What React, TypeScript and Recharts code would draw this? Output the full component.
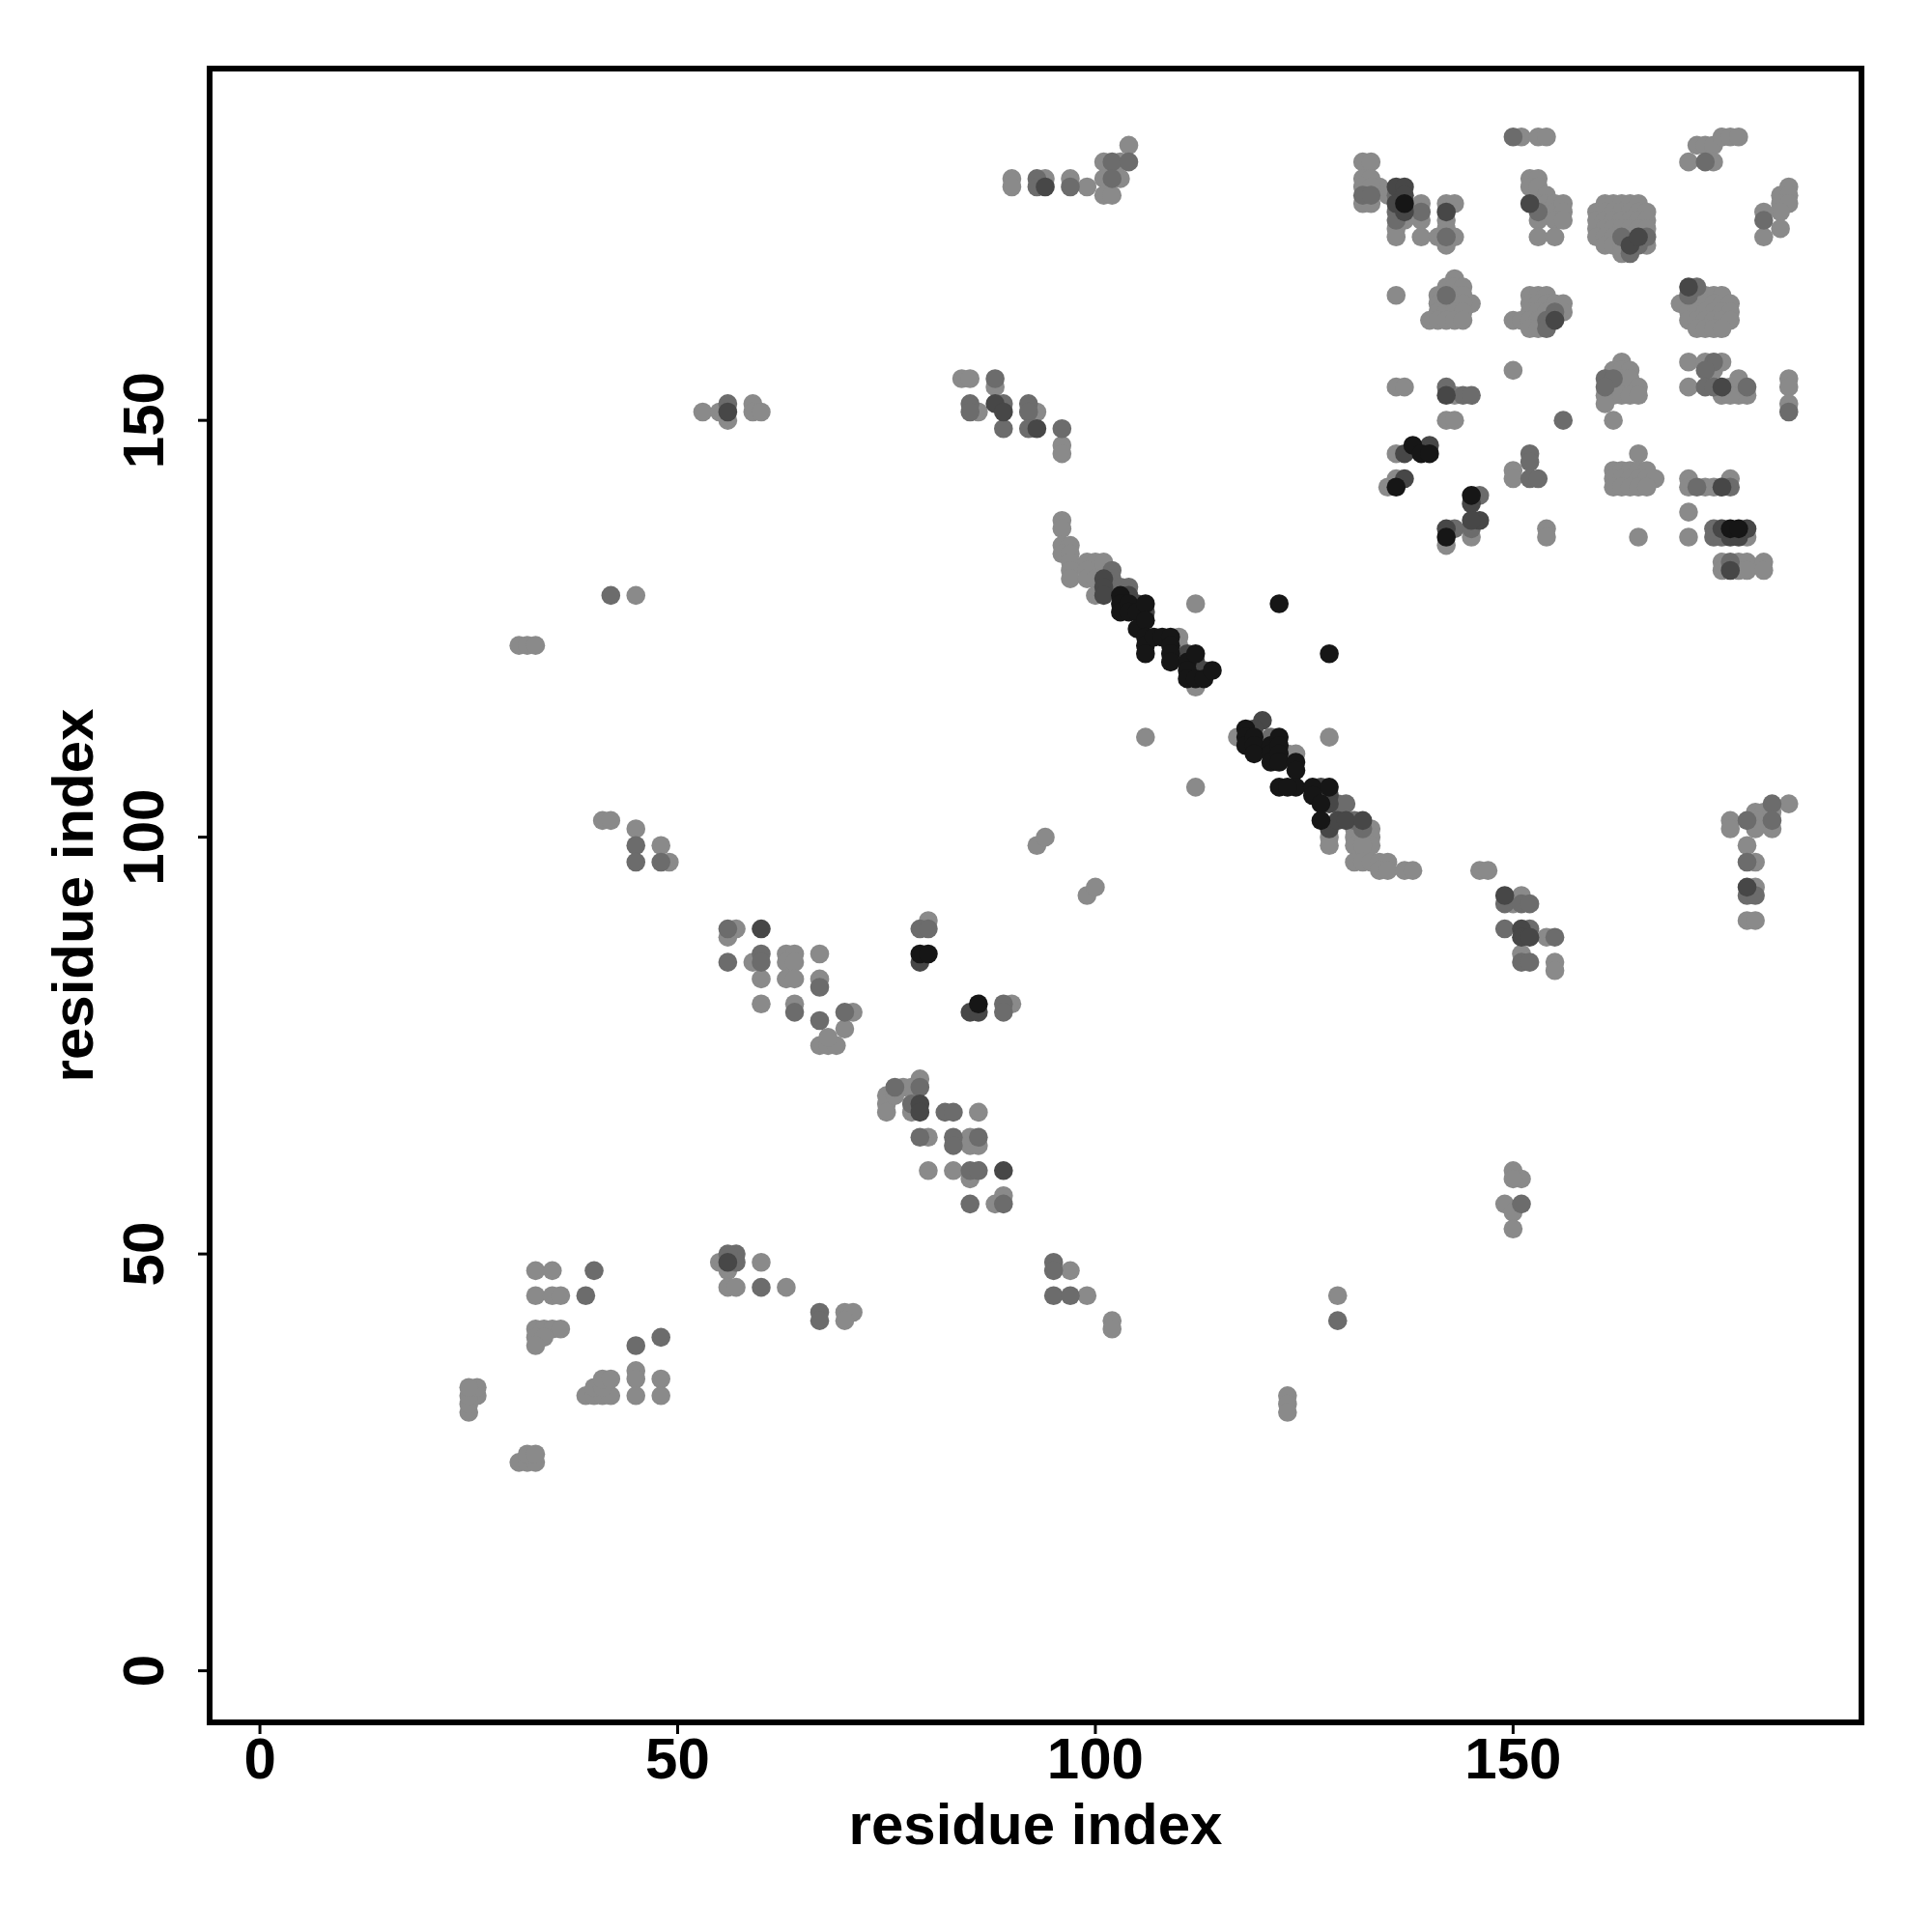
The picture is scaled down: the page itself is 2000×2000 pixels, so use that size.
import React from 'react';
import { ScatterChart, Scatter, XAxis, YAxis, ReferenceArea, Label } from 'recharts';

const xTicks = [0, 50, 100, 150];
const yTicks = [0, 50, 100, 150];
const axisTitle = 'residue index';

const lightPts: [number, number][] = [
  [31,25],[32,25],[33,25],[32,26],[33,26],
  [25,31],[25,32],[26,33],[25,33],[26,34],[25,34],
  [33,48],[35,48],[33,45],[35,45],[36,45],
  [33,41],[34,41],[35,41],[36,41],[33,40],[34,40],[33,39],
  [39,33],[40,33],[41,33],[42,33],[40,34],[41,34],[41,35],[42,35],
  [45,36],[45,35],[45,33],[48,35],[48,33],
  [55,49],[56,48],[60,49],[56,46],[57,46],[63,46],[70,43],[71,43],[70,42],
  [97,48],[99,45],[102,42],[102,41],[129,45],[123,33],[123,32],[123,31],
  [150,60],[151,59],[150,59],[149,56],[150,55],[150,53],
  [75,69],[75,68],[75,67],[76,69],[77,70],[78,70],[78,67],[79,71],
  [86,67],[80,64],[85,64],[85,63],[86,63],[80,60],[83,60],[85,59],[88,56],[89,57],
  [57,89],[56,88],[59,85],[63,86],[64,86],[63,85],[64,85],[67,86],[60,83],[63,83],[64,83],[67,83],
  [60,80],[64,80],[71,79],[70,77],[67,75],[68,75],[69,75],[68,76],[80,90],[90,80],
  [45,129],[31,123],[32,123],[33,123],[41,102],[42,102],[45,101],[48,99],[49,97],
  [93,99],[94,100],[99,93],[100,94],
  [90,179],[90,178],[94,179],[97,179],[99,178],[101,181],[103,181],[101,179],[103,179],[101,177],[102,177],[104,183],
  [53,151],[55,151],[56,150],[59,152],[59,151],[60,151],
  [84,155],[85,155],[88,154],[86,151],[93,151],[96,147],[96,146],
  [96,138],[96,137],[96,135],[97,135],[96,134],[97,134],[97,133],[97,132],[97,131],
  [99,133],[100,133],[101,133],[99,132],[99,131],[100,131],[100,129],[110,124],[110,123],[112,118],[112,128],[106,112],
  [117,112],[123,110],[124,110],[128,100],[128,99],[131,101],[133,101],[133,100],[133,99],[131,100],[131,99],[132,99],
  [131,97],[132,97],[133,97],[134,97],[135,97],[134,96],[135,96],[137,96],[138,96],[128,112],[112,106],
  [146,96],[147,96],[150,92],[151,93],[154,88],[151,86],[155,85],[155,84],
  [183,104],[179,103],[180,103],[181,103],[176,102],[176,101],[179,102],[179,101],[181,101],[178,99],[179,97],[179,94],[178,90],[179,90],
  [151,184],[153,184],[154,184],
  [132,181],[133,181],[132,179],[133,179],[134,178],[132,178],[133,178],[132,176],[133,176],[135,177],
  [137,174],[136,173],[138,175],[139,176],[139,174],[136,172],[139,172],
  [142,176],[143,176],[142,174],[142,173],[143,172],[142,171],[141,172],
  [152,179],[153,179],[152,178],[153,178],[154,177],[153,176],[154,176],[154,175],[155,176],[155,175],[156,176],[156,175],
  [153,174],[155,174],[156,174],[153,172],[155,172],
  [161,176],[162,176],[163,176],[164,176],[165,176],
  [160,175],[161,175],[162,175],[163,175],[164,175],[165,175],[166,175],
  [160,174],[161,174],[162,174],[163,174],[164,174],[165,174],[166,174],
  [160,173],[161,173],[162,173],[163,173],[164,173],[165,173],[166,173],
  [160,172],[161,172],[162,172],[164,172],
  [161,171],[162,171],[163,171],[166,171],[163,170],
  [172,183],[173,183],[174,183],[175,184],[176,184],[177,184],[171,181],[174,181],
  [183,178],[182,177],[183,177],[182,176],[183,176],[182,175],[182,173],[180,175],[180,172],
  [170,164],[173,165],[174,165],[175,165],
  [172,164],[173,164],[174,164],[175,164],[176,164],
  [171,163],[172,163],[173,163],[174,163],[175,163],[176,163],
  [171,162],[172,162],[173,162],[174,162],[175,162],[176,162],
  [172,161],[173,161],[174,161],[175,161],
  [171,157],[171,154],[173,157],[175,157],[174,156],[176,154],[177,155],[177,153],[178,153],[175,153],[176,153],
  [183,155],[183,154],[183,152],
  [165,146],
  [162,144],[163,144],[164,144],[165,144],[166,144],
  [162,143],[163,143],[164,143],[165,143],[166,143],[167,143],
  [162,142],[163,142],[164,142],[165,142],[166,142],
  [165,136],[171,143],[171,142],[173,142],[174,142],[176,143],[171,139],[171,136],
  [178,136],[175,133],[177,133],[178,133],[180,133],[175,132],[177,132],[178,132],[180,132],
  [136,165],[143,167],[142,166],[143,166],[144,166],[141,165],[143,165],[144,165],[145,164],
  [141,164],[142,164],[143,164],[144,164],[141,163],[142,163],[143,163],[144,163],
  [140,162],[141,162],[142,162],[143,162],[144,162],
  [150,162],[152,165],[153,165],[154,165],[152,164],[153,164],[154,164],[155,164],[156,164],
  [152,163],[153,163],[154,163],[156,163],[151,162],[152,162],[153,162],[152,161],[153,161],
  [150,156],[136,154],[137,154],[143,153],[142,150],[143,150],
  [163,157],[162,156],[163,156],[164,156],[162,154],[163,155],[164,155],[165,154],
  [161,153],[162,153],[163,153],[164,153],[165,153],[161,152],[162,150],
  [136,146],[136,143],[135,142],[150,144],[150,143],[145,136],[142,135],[154,137],[154,136],
];

const midPts: [number, number][] = [
  [40,48],[39,45],[45,39],[48,40],[57,50],[57,49],[56,50],[60,46],[67,43],[67,42],
  [95,49],[95,48],[95,45],[97,45],[129,42],[151,56],
  [76,70],[78,68],[79,70],[82,67],[83,67],[79,64],[83,64],[83,63],[86,64],[85,60],[86,60],[85,56],[89,56],
  [56,89],[56,85],[60,86],[60,85],[67,82],[64,79],[67,78],[70,79],[79,89],[80,89],[89,80],[89,79],
  [42,129],[45,99],[45,97],[48,97],
  [93,179],[93,178],[97,178],[102,181],[104,181],[102,179],
  [56,152],[88,155],[85,152],[85,151],[89,152],[89,149],[92,152],[92,151],[92,149],[96,149],
  [102,132],[102,131],[103,130],[104,130],
  [121,112],[129,104],[130,104],[131,102],[132,101],
  [149,92],[151,92],[152,92],[149,89],[152,89],[155,88],[151,85],[152,85],
  [181,104],[178,102],[181,102],[178,97],[178,93],[179,93],
  [150,184],[132,177],[133,177],[136,177],[136,175],[136,174],[139,175],[142,172],
  [153,175],[166,172],[165,171],[163,172],[164,170],
  [173,181],[180,174],[171,165],[172,166],
  [174,157],[173,156],[173,154],[174,154],[178,154],[183,151],
  [172,142],[176,142],[174,137],[174,136],[175,136],[176,133],
  [142,165],[154,162],[155,163],[154,161],
  [156,150],[161,155],[162,155],[161,154],
  [143,137],[145,137],[146,141],[152,146],[152,145],[152,143],[153,143],[144,153],[145,153],[142,154],
];

const darkPts: [number, number][] = [
  [56,49],[60,89],[79,85],[85,79],[86,79],[79,68],[79,67],[89,60],
  [94,178],[56,151],[88,152],[89,151],[93,149],
  [101,131],[101,130],[101,129],[104,129],[105,128],[106,127],[111,122],[112,121],[112,120],[113,120],
  [120,114],[119,113],[127,106],[127,105],[128,105],[128,104],[128,101],[129,102],[130,102],[132,102],
  [149,93],[151,89],[151,88],[152,88],[178,94],
  [136,178],[137,178],[137,177],[136,176],[137,175],[142,175],
  [152,176],[164,171],[165,172],[171,166],
  [176,136],[177,136],[175,137],[178,137],[176,132],[155,162],
  [142,153],[137,146],[140,147],[137,143],[145,140],[146,138],[145,138],[142,137],
  [175,154],[175,142],
];

const blackPts: [number, number][] = [
  [79,86],[80,86],[86,80],
  [103,129],[103,128],[103,127],[104,128],[104,127],[105,127],[105,125],[106,128],[106,126],
  [106,124],[106,123],[106,122],[107,124],[108,124],[109,124],[109,123],[109,122],[109,121],
  [111,121],[111,120],[111,119],[112,122],[112,119],[113,119],[114,120],
  [122,128],[128,122],
  [118,113],[118,112],[118,111],[119,112],[119,111],[119,110],[121,111],[121,110],[121,109],
  [122,112],[122,111],[122,110],[122,109],[124,109],[124,108],[124,106],[122,106],[123,106],
  [126,106],[128,106],[126,105],[127,104],[127,102],
  [137,176],[138,147],[139,146],[140,146],[136,142],[145,141],[142,136],
  [176,137],[177,137],
];

const toObjs = (pts: [number, number][]) => pts.map(([x, y]) => ({ x, y }));

const FONT = '"Liberation Sans", Arial, Helvetica, sans-serif';
const FS = 60;

const makeDot = (color: string) => (props: any) => {
  if (props.cx == null || props.cy == null) return <g />;
  return <circle cx={props.cx} cy={props.cy} r={9.8} fill={color} />;
};

const XTick = (props: any) => {
  const { x, y, payload } = props;
  return (
    <text x={x} y={y + 46} textAnchor="middle" fontFamily={FONT} fontWeight="bold" fontSize={FS} fill="#000">
      {payload.value}
    </text>
  );
};

const YTick = (props: any) => {
  const { x, y, payload } = props;
  const bx = x - 36;
  return (
    <text x={bx} y={y} textAnchor="middle" fontFamily={FONT} fontWeight="bold" fontSize={FS} fill="#000"
      transform={`rotate(-90, ${bx}, ${y})`}>
      {payload.value}
    </text>
  );
};

const XTitle = () => (
  <text x={1072} y={1909} textAnchor="middle" fontFamily={FONT} fontWeight="bold" fontSize={FS} fill="#000">
    {axisTitle}
  </text>
);

const YTitle = () => (
  <text x={96} y={927} textAnchor="middle" fontFamily={FONT} fontWeight="bold" fontSize={FS} fill="#000"
    transform="rotate(-90, 96, 927)">
    {axisTitle}
  </text>
);

const X_DOMAIN: [number, number] = [-6.02, 191.7];
const Y_DOMAIN: [number, number] = [-6.19, 192.2];

export default function App() {
  return (
    <div style={{ position: 'absolute', left: 0, top: 0, width: 2000, height: 2000, background: '#fff' }}>
      <ScatterChart width={2000} height={2000} margin={{ top: 71, right: 73, bottom: 117, left: 117 }}>
        <XAxis type="number" dataKey="x" domain={X_DOMAIN} ticks={xTicks} allowDataOverflow
          axisLine={false} tickLine={{ stroke: '#000', strokeWidth: 3 }} tickSize={12} tickMargin={0}
          height={100} tick={<XTick />} interval={0}>
          <Label content={<XTitle />} />
        </XAxis>
        <YAxis type="number" dataKey="y" domain={Y_DOMAIN} ticks={yTicks} allowDataOverflow
          axisLine={false} tickLine={{ stroke: '#000', strokeWidth: 3 }} tickSize={12} tickMargin={0}
          width={100} tick={<YTick />} interval={0}>
          <Label content={<YTitle />} />
        </YAxis>
        <Scatter data={toObjs(lightPts)} shape={makeDot('#8a8a8a')} isAnimationActive={false} />
        <Scatter data={toObjs(midPts)} shape={makeDot('#6c6c6c')} isAnimationActive={false} />
        <Scatter data={toObjs(darkPts)} shape={makeDot('#474747')} isAnimationActive={false} />
        <Scatter data={toObjs(blackPts)} shape={makeDot('#161616')} isAnimationActive={false} />
        <ReferenceArea x1={X_DOMAIN[0]} x2={X_DOMAIN[1]} y1={Y_DOMAIN[0]} y2={Y_DOMAIN[1]}
          fill="none" fillOpacity={0} stroke="#000" strokeWidth={6} ifOverflow="visible" />
      </ScatterChart>
    </div>
  );
}
